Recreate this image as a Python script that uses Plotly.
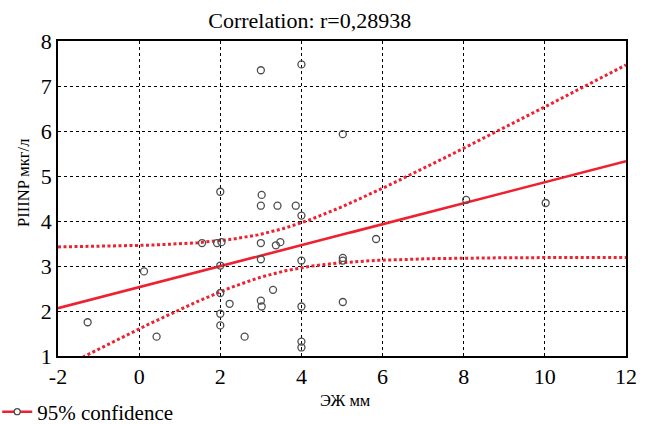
import numpy as np
import plotly.graph_objects as go

# Data
x_vals = [-1.27, 0.12, 0.43, 1.55, 1.92, 2.03, 2.0, 2.0, 2.0, 2.0, 2.0, 2.23, 2.6,
          3.0, 3.02, 3.0, 3.0, 3.0, 3.0, 3.02, 3.3, 3.37, 3.41, 3.48, 3.86,
          4.0, 4.0, 4.0, 4.0, 4.0, 4.0, 5.02, 5.02, 5.02, 5.02, 5.84, 8.06, 10.02]
y_vals = [1.75, 2.88, 1.43, 3.51, 3.51, 3.53, 4.65, 3.01, 2.40, 1.94, 1.68, 2.16, 1.43,
          7.35, 4.58, 4.34, 3.51, 3.15, 2.23, 2.10, 2.47, 3.46, 4.34, 3.53, 4.34,
          7.48, 4.12, 3.12, 2.10, 1.32, 1.19, 5.93, 3.18, 3.12, 2.20, 3.60, 4.47, 4.40]
x_ticks = [-2, 0, 2, 4, 6, 8, 10, 12]
y_ticks = [1, 2, 3, 4, 5, 6, 7, 8]
title_text = "Correlation: r=0,28938"
x_title = "ЭЖ мм"
y_title = "PIIINP мкг/л"
legend_label = "95% confidence"

x = np.array(x_vals)
y = np.array(y_vals)
n = len(x)
slope, intercept = np.polyfit(x, y, 1)
resid = y - (intercept + slope * x)
s = np.sqrt(np.sum(resid ** 2) / (n - 2))
xm = x.mean()
sxx = np.sum((x - xm) ** 2)
t = 2.028  # t(0.975, n-2)

xl = np.linspace(x_ticks[0], x_ticks[-1], 200)
yl = intercept + slope * xl
hw = t * s * np.sqrt(1.0 / n + (xl - xm) ** 2 / sxx)

RED = "#ee2130"
FONT = "'Liberation Serif', 'Times New Roman', Tinos, 'DejaVu Serif', serif"
DOTS = "3px,2.5px"

fig = go.Figure()
fig.add_trace(go.Scatter(x=xl, y=yl + hw, mode="lines", line=dict(color=RED, width=3, dash=DOTS),
                         showlegend=False, hoverinfo="skip"))
fig.add_trace(go.Scatter(x=xl, y=yl - hw, mode="lines", line=dict(color=RED, width=3, dash=DOTS),
                         showlegend=False, hoverinfo="skip"))
fig.add_trace(go.Scatter(x=xl, y=yl, mode="lines", line=dict(color=RED, width=2.6),
                         showlegend=False, hoverinfo="skip"))
fig.add_trace(go.Scatter(x=x, y=y, mode="markers",
                         marker=dict(symbol="circle-open", size=7, color="#4d4d4d", line=dict(width=1.3)),
                         showlegend=False))
fig.add_trace(go.Scatter(x=[None], y=[None], mode="lines+markers", name=legend_label,
                         line=dict(color=RED, width=2.5),
                         marker=dict(symbol="circle", size=6, color="white", line=dict(color="#4d4d4d", width=1.3))))

axis_common = dict(showline=True, linecolor="black", linewidth=1.5, mirror=True,
                   showgrid=True, gridcolor="black", gridwidth=1, griddash="3px,3px",
                   zeroline=False, ticks="", tickfont=dict(family=FONT, size=22, color="black"))
fig.update_xaxes(range=[x_ticks[0], x_ticks[-1]], tickvals=x_ticks, ticktext=[str(v) for v in x_ticks],
                 **axis_common)
fig.update_yaxes(range=[y_ticks[0], y_ticks[-1]], tickvals=y_ticks, ticktext=[str(v) for v in y_ticks],
                 **axis_common)

fig.update_layout(
    width=648, height=424,
    margin=dict(l=58, r=22, t=41, b=68, autoexpand=False),
    paper_bgcolor="white", plot_bgcolor="white",
    font=dict(family=FONT, color="black"),
    title=dict(text=title_text, x=0.478, xanchor="center", y=0.953, yanchor="middle",
               font=dict(family=FONT, size=22, color="black")),
    showlegend=True,
    legend=dict(x=-0.107, y=-0.178, xanchor="left", yanchor="middle", tracegroupgap=0,
                font=dict(family=FONT, size=21, color="black"), bgcolor="rgba(0,0,0,0)"),
    annotations=[
        dict(text=x_title, x=0.507, y=-0.14, xref="paper", yref="paper", xanchor="center", yanchor="middle",
             showarrow=False, font=dict(family=FONT, size=16.5, color="black")),
        dict(text=y_title, x=-0.0607, y=0.548, xref="paper", yref="paper", xanchor="center", yanchor="middle",
             textangle=-90, showarrow=False, font=dict(family=FONT, size=16.5, color="black")),
    ],
)

fig.write_html("out.html")
